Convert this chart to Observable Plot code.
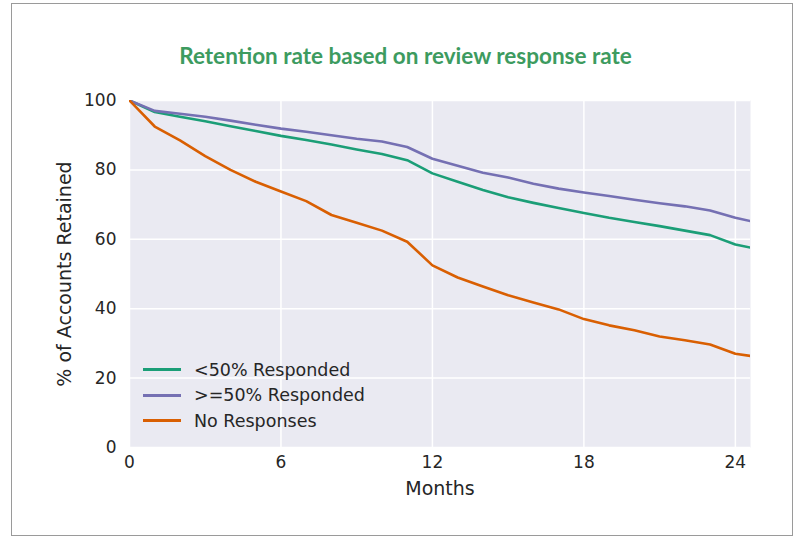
<!DOCTYPE html>
<html>
<head>
<meta charset="utf-8">
<script src="https://cdn.jsdelivr.net/npm/d3@7"></script>
<script src="https://cdn.jsdelivr.net/npm/@observablehq/plot@0.6"></script>
<style>
  body { margin: 0; background: #fff; }
  #wrap { position: relative; width: 799px; height: 540px; overflow: hidden; }
  #border { position: absolute; left: 11px; top: 3px; width: 782px; height: 533px; border: 1px solid #9a9a9a; box-sizing: border-box; pointer-events: none; }
  #title { position: absolute; left: 0; width: 811px; top: 42px; text-align: center; font-family: Lato, sans-serif; font-weight: bold; font-size: 22.5px; color: #3d9b5f; }
  #legend { position: absolute; left: 143px; top: 357px; font-family: "DejaVu Sans", sans-serif; font-size: 17.5px; color: #262626; }
  .item { display: flex; align-items: center; height: 25.5px; }
  .swatch { width: 38px; height: 3px; margin-right: 13px; }
  #chart { position: absolute; left: 0; top: 0; }
  g[aria-label="y-axis label"] text, g[aria-label="x-axis label"] text { font-size: 19px; }
</style>
</head>
<body>
<div id="wrap">
  <div id="chart"></div>
  <div id="title">Retention rate based on review response rate</div>
  <div id="legend"></div>
  <div id="border"></div>
</div>
<script>
const months = [0,1,2,3,4,5,6,7,8,9,10,11,12,13,14,15,16,17,18,19,20,21,22,23,24,25];
const seriesNames = ["<50% Responded", ">=50% Responded", "No Responses"];
const seriesColors = ["#1b9e77", "#7570b3", "#d95f02"];
const below50 = [100,96.7,95.3,94,92.6,91.2,89.8,88.6,87.3,85.9,84.6,82.8,79,76.6,74.2,72.1,70.5,69,67.6,66.2,65,63.8,62.5,61.2,58.5,57];
const above50 = [100,97,96.2,95.3,94.2,93,91.9,91,90,89,88.2,86.6,83.2,81.2,79.2,77.8,76,74.6,73.5,72.5,71.4,70.4,69.5,68.3,66.2,64.6];
const noResp = [100,92.5,88.5,84,80,76.6,73.8,71,67,64.8,62.5,59.3,52.5,49,46.4,43.9,41.8,39.8,37,35.2,33.8,32,30.9,29.7,27,26];
const xTicks = [0,6,12,18,24];
const yTicks = [0,20,40,60,80,100];

const allSeries = [below50, above50, noResp];
const rows = [];
allSeries.forEach((vals, i) => vals.forEach((v, j) => rows.push({month: months[j], value: v, series: seriesNames[i]})));

const plot = Plot.plot({
  width: 799,
  height: 540,
  marginLeft: 129,
  marginRight: 49,
  marginTop: 100,
  marginBottom: 93,
  style: {fontFamily: "'DejaVu Sans', sans-serif", fontSize: "17px", color: "#262626", background: "transparent"},
  x: {domain: [0, 24.6]},
  y: {domain: [0, 100]},
  color: {domain: seriesNames, range: seriesColors},
  marks: [
    Plot.frame({fill: "#eaeaf2", stroke: null}),
    Plot.gridX(xTicks, {stroke: "#fff", strokeOpacity: 1, strokeWidth: 1.5}),
    Plot.gridY(yTicks, {stroke: "#fff", strokeOpacity: 1, strokeWidth: 1.5}),
    Plot.line(rows, {x: "month", y: "value", z: "series", stroke: "series", strokeWidth: 2.6, clip: true}),
    Plot.axisX({ticks: xTicks, tickSize: 0, tickPadding: 8, label: "Months", labelAnchor: "center", labelOffset: 47, labelArrow: "none"}),
    Plot.axisY({ticks: yTicks, tickSize: 0, tickPadding: 13, label: "% of Accounts Retained", labelAnchor: "center", labelOffset: 72, labelArrow: "none"})
  ]
});
document.getElementById("chart").appendChild(plot);

const legend = document.getElementById("legend");
seriesNames.forEach((name, i) => {
  const item = document.createElement("div");
  item.className = "item";
  const sw = document.createElement("div");
  sw.className = "swatch";
  sw.style.background = seriesColors[i];
  const t = document.createElement("span");
  t.textContent = name;
  item.appendChild(sw); item.appendChild(t);
  legend.appendChild(item);
});
</script>
</body>
</html>
